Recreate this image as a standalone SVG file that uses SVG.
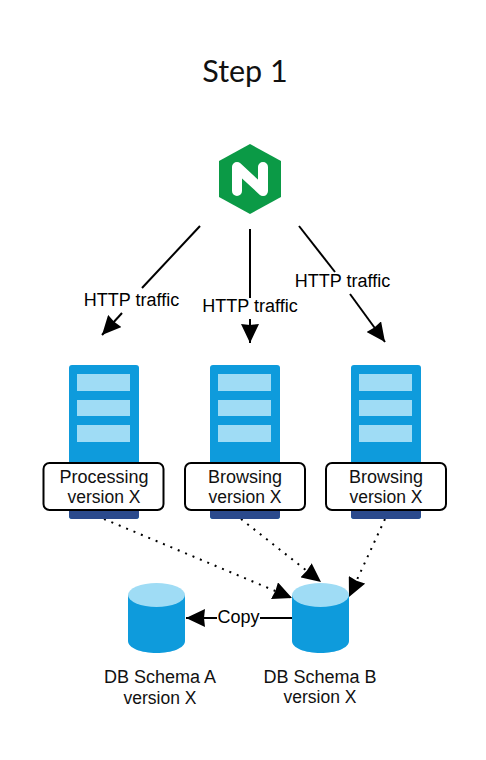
<svg xmlns="http://www.w3.org/2000/svg" width="486" height="760" viewBox="0 0 486 760">
<style>
.t{font-family:"Liberation Sans",Arial,sans-serif;font-size:18px;fill:#000;text-anchor:middle}
.s{font-family:"Liberation Sans",Arial,sans-serif;font-size:18px;fill:#111;text-anchor:middle}
.v{font-family:"Liberation Sans",Arial,sans-serif;font-size:17.500px;fill:#111;text-anchor:middle}
.body{fill:#0e9bdc}.base{fill:#2b4a8c}.light{fill:#9fdcf5}
.box{fill:#fff;stroke:#000;stroke-width:2}
.line{fill:none;stroke:#000;stroke-width:2}
.dot{fill:none;stroke:#000;stroke-width:2;stroke-dasharray:2 6}
</style>
<defs>
<marker id="a" viewBox="0 0 19 18" refX="19" refY="9" markerWidth="19" markerHeight="18" markerUnits="userSpaceOnUse" orient="auto"><path d="M0,0L19,9L0,18L1,9Z" fill="#000"/></marker>
<g id="srv">
<rect x="0" y="0" width="70" height="154" rx="3" class="body"/>
<path d="M0,145H70V151a3,3 0 0 1-3,3H3a3,3 0 0 1-3-3Z" class="base"/>
<rect x="8" y="9" width="53" height="17" class="light"/>
<rect x="8" y="35" width="53" height="16" class="light"/>
<rect x="8" y="60" width="53" height="17" class="light"/>
</g>
<g id="cyl">
<path d="M0,595V641C0,648 13,653 28.500,653S57,648 57,641V595Z" class="body"/>
<ellipse cx="28.500" cy="595" rx="28.500" ry="12" class="light"/>
</g>
</defs>
<rect width="486" height="760" fill="#fff"/>
<text id="title" x="245" y="82" font-family="Lato,'Open Sans',sans-serif" font-size="30.500" fill="#111" text-anchor="middle">Step 1</text>
<g id="nginx">
<path d="M250,144L281,161V197L250,214L219,197V161Z" fill="#0b9a46"/>
<path d="M237,191V167L263,191V167" fill="none" stroke="#fff" stroke-width="10" stroke-linecap="round" stroke-linejoin="round"/>
</g>
<g id="connectors">
<path class="line" d="M200,226L142,288"/>
<path class="line" marker-end="url(#a)" d="M122,313L102,335"/>
<path class="line" d="M250,229V298"/>
<path class="line" marker-end="url(#a)" d="M250,319V343"/>
<path class="line" d="M299,226L335,272"/>
<path class="line" marker-end="url(#a)" d="M350,294L385,342"/>
<path class="dot" marker-end="url(#a)" d="M104,519L292,598"/>
<path class="dot" marker-end="url(#a)" d="M241,519L321,582"/>
<path class="dot" marker-end="url(#a)" d="M385,519L349,597"/>
<path class="line" marker-end="url(#a)" d="M292,618H186"/>
</g>
<g id="edge-labels">
<text class="t" x="131.500" y="306">HTTP traffic</text>
<text class="t" x="250" y="312">HTTP traffic</text>
<text class="t" x="342.500" y="287">HTTP traffic</text>
<rect x="217" y="608" width="43" height="20" fill="#fff"/>
<text class="t" x="238.500" y="623">Copy</text>
</g>
<g id="server-processing">
<use href="#srv" x="69" y="365"/>
<rect x="43.500" y="463" width="120" height="47" rx="6" class="box"/>
<text class="s" x="104" y="483">Processing</text>
<text class="v" x="104" y="503">version X</text>
</g>
<g id="server-browsing-1">
<use href="#srv" x="210" y="365"/>
<rect x="185" y="463" width="120" height="47" rx="6" class="box"/>
<text class="s" x="245" y="483">Browsing</text>
<text class="v" x="245" y="503">version X</text>
</g>
<g id="server-browsing-2">
<use href="#srv" x="351" y="365"/>
<rect x="326" y="463" width="120" height="47" rx="6" class="box"/>
<text class="s" x="386" y="483">Browsing</text>
<text class="v" x="386" y="503">version X</text>
</g>
<g id="db-a">
<use href="#cyl" x="128" y="0"/>
<text class="s" x="160" y="683">DB Schema A</text>
<text class="v" x="160" y="704">version X</text>
</g>
<g id="db-b">
<use href="#cyl" x="292" y="0"/>
<text class="s" x="320" y="683">DB Schema B</text>
<text class="v" x="320" y="703">version X</text>
</g>
</svg>
